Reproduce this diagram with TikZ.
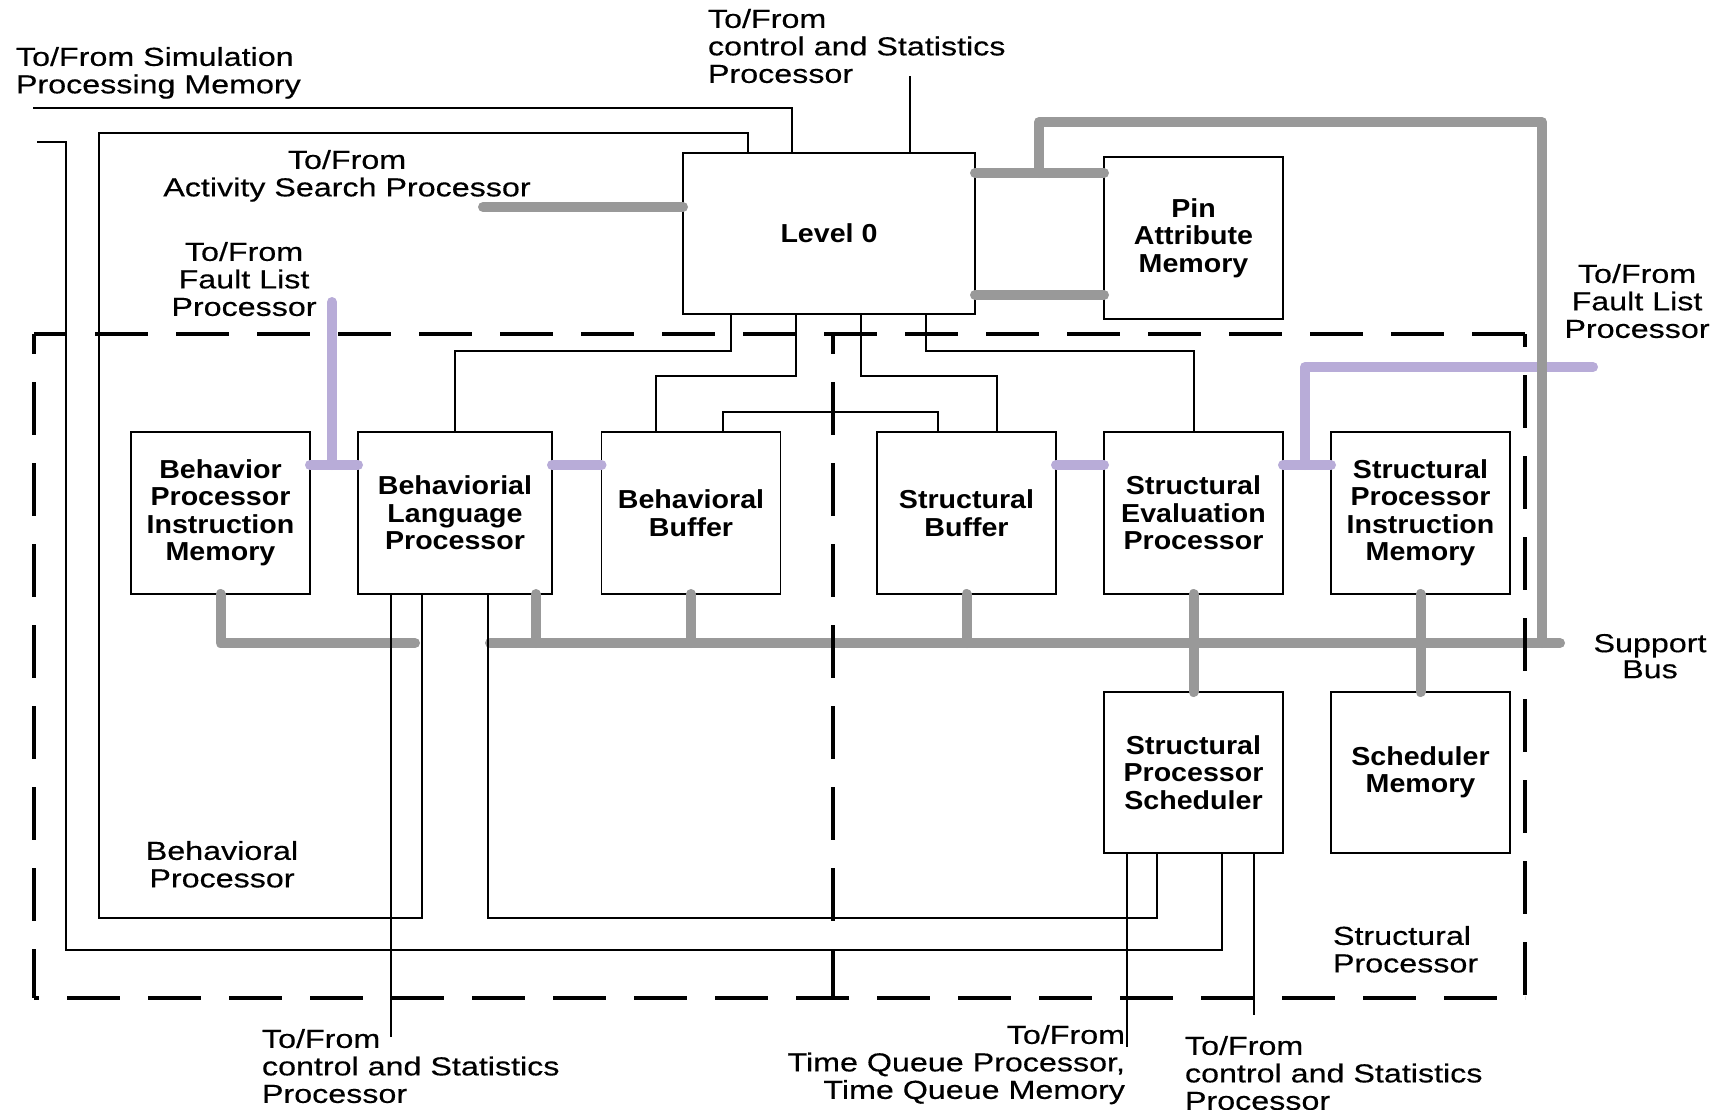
\documentclass[tikz,border=0pt]{standalone}
\usepackage{fontspec}
\newfontfamily\lblfont[FakeStretch=1.24,FakeBold=0.4]{Liberation Sans}
\newfontfamily\boxfont[FakeStretch=1.1]{Liberation Sans}
\definecolor{busgray}{RGB}{153,153,153}
\definecolor{faultpurple}{RGB}{184,172,216}
\begin{document}
\begin{tikzpicture}[x=1pt,y=-1pt,
  unit/.style={draw=black, line width=1.3pt, fill=white, inner sep=0pt, outer sep=0pt,
    minimum width=179pt, minimum height=162pt, align=center,
    font=\boxfont\bfseries\fontsize{26}{27.5}\selectfont},
  lbl/.style={inner sep=0pt, outer sep=0pt, font=\lblfont\fontsize{26}{27.5}\selectfont},
  wire/.style={line width=2pt},
  bus/.style={line width=10pt, draw=busgray, line cap=round, line join=round},
  fault/.style={line width=10pt, draw=faultpurple, line cap=round, line join=round},
  region/.style={line width=3.3pt, dash pattern=on 53pt off 28pt}
]
\useasboundingbox (0,0) rectangle (1724,1109);

% ---------- functional units ----------
\node[unit, minimum width=292pt, minimum height=161pt] (lvl0) at (829,233.5) {Level 0};
\node[unit] (pin)  at (1193.5,238) {Pin\\Attribute\\Memory};
\node[unit] (bpim) at (220.5,513) {Behavior\\Processor\\Instruction\\Memory};
\node[unit, minimum width=194pt] (blp) at (455,513) {Behaviorial\\Language\\Processor};
\node[unit] (bbuf) at (691,513) {Behavioral\\Buffer};
\node[unit] (sbuf) at (966.5,513) {Structural\\Buffer};
\node[unit] (sep)  at (1193.5,513) {Structural\\Evaluation\\Processor};
\node[unit] (spim) at (1420.5,513) {Structural\\Processor\\Instruction\\Memory};
\node[unit, minimum height=161pt] (sps)  at (1193.5,772.5) {Structural\\Processor\\Scheduler};
\node[unit, minimum height=161pt] (smem) at (1420.5,772.5) {Scheduler\\Memory};

% ---------- fault list links ----------
\coordinate (flL) at (332,302);
\coordinate (flRk) at (1305,367);
\coordinate (flR) at (1593,367);
\coordinate (f1) at ([yshift=48pt]bpim.east);
\coordinate (f2) at ([yshift=48pt]blp.west);
\coordinate (f3) at ([yshift=48pt]blp.east);
\coordinate (f4) at ([yshift=48pt]bbuf.west);
\coordinate (f5) at ([yshift=48pt]sbuf.east);
\coordinate (f6) at ([yshift=48pt]sep.west);
\coordinate (f7) at ([yshift=48pt]sep.east);
\coordinate (f8) at ([yshift=48pt]spim.west);
\draw[fault] (flL) -- (flL |- f1);
\draw[fault] (f1) -- (f2);
\draw[fault] (f3) -- (f4);
\draw[fault] (f5) -- (f6);
\draw[fault] (f7) -- (f8);
\draw[fault] (flRk |- f7) -- (flRk) -- (flR);

% ---------- support bus and memory buses ----------
\coordinate (act) at (483,207);
\coordinate (busL) at (415,643);
\coordinate (busS) at (490,643);
\coordinate (busE) at (1560,643);
\coordinate (loopA) at (1039,122);
\coordinate (loopB) at (1542,122);
\coordinate (pa1) at ([yshift=-20pt]lvl0.north east);
\coordinate (pa2) at ([yshift=19pt]lvl0.south east);
\draw[bus] (act) -- (act -| lvl0.west);
\draw[bus] (pa1) -- (pa1 -| pin.west);
\draw[bus] (pa2) -- (pa2 -| pin.west);
\draw[bus] (pa1 -| loopA) -- (loopA) -- (loopB) -- (loopB |- busE);
\draw[bus] (bpim.south) |- (busL);
\draw[bus] (busS) -- (busE);
\draw[bus] ([xshift=81pt]blp.south) -- ([xshift=81pt]blp.south |- busE);
\draw[bus] (bbuf.south) -- (bbuf.south |- busE);
\draw[bus] (sbuf.south) -- (sbuf.south |- busE);
\draw[bus] (sep.south) -- (sps.north);
\draw[bus] (spim.south) -- (smem.north);

% ---------- control wires ----------
\coordinate (spm1) at (33,108);
\coordinate (spm2) at (99,133);
\coordinate (spm2b) at (99,918);
\coordinate (spm3) at (37,142);
\coordinate (spm3b) at (66,950);
\coordinate (cs1) at (910,76);
\draw[wire] (spm1) -| ([xshift=-37pt]lvl0.north);
\draw[wire] ([xshift=-81pt]lvl0.north) |- (spm2) -- (spm2b) -| ([xshift=-33pt]blp.south);
\draw[wire] (spm3) -| (spm3b) -| ([xshift=28.5pt]sps.south);
\draw[wire] (cs1) -- (cs1 |- lvl0.north);
\draw[wire] ([xshift=-98pt]lvl0.south) -- ++(0,37) -| (blp.north);
\draw[wire] ([xshift=-33pt]lvl0.south) -- ++(0,62) -| ([xshift=-35pt]bbuf.north);
\draw[wire] ([xshift=32pt]lvl0.south) -- ++(0,62) -| ([xshift=30.5pt]sbuf.north);
\draw[wire] ([xshift=97pt]lvl0.south) -- ++(0,37) -| (sep.north);
\draw[wire] ([xshift=32pt]bbuf.north) -- ++(0,-20) -| ([xshift=-28.5pt]sbuf.north);
\draw[wire] ([xshift=-64pt]blp.south) -- ++(0,443);
\draw[wire] ([xshift=33pt]blp.south) -- ++(0,324) -| ([xshift=-36.5pt]sps.south);
\draw[wire] ([xshift=-66.5pt]sps.south) -- ++(0,194);
\draw[wire] ([xshift=60.5pt]sps.south) -- ++(0,162);

% ---------- processor regions ----------
\coordinate (dTL) at (34,334);
\coordinate (dTR) at (1525,334);
\coordinate (dBL) at (34,998);
\coordinate (dBR) at (1525,998);
\coordinate (dTM) at (833,334);
\coordinate (dBM) at (833,998);
\draw[region, dash phase=20pt] (dTL) -- (dTR);
\draw[region, dash phase=48pt] (dBL) -- (dBR);
\draw[region, dash phase=33pt] (dTL) -- (dBL);
\draw[region, dash phase=33pt] (dTM) -- (dBM);
\draw[region, dash phase=40pt] (dTR) -- (dBR);

% ---------- labels ----------
\node[lbl, anchor=north west, align=left] (tsim) at (16,47) {To/From Simulation\\Processing Memory};
\node[lbl, anchor=north west, align=left] (tcs1) at (708,9) {To/From\\control and Statistics\\Processor};
\node[lbl, anchor=north, align=center] (tasp) at (347,150) {To/From\\Activity Search Processor};
\node[lbl, anchor=north, align=center] (tfl1) at (244,242) {To/From\\Fault List\\Processor};
\node[lbl, anchor=north, align=center] (tfl2) at (1637,264) {To/From\\Fault List\\Processor};
\node[lbl, anchor=north, align=center, font=\lblfont\fontsize{26}{26}\selectfont] (tsb) at (1650,634) {Support\\Bus};
\node[lbl, anchor=north, align=center] (tbp) at (222,841) {Behavioral\\Processor};
\node[lbl, anchor=north west, align=left] (tsp) at (1333,926) {Structural\\Processor};
\node[lbl, anchor=north west, align=left] (tcs2) at (262,1029) {To/From\\control and Statistics\\Processor};
\node[lbl, anchor=north east, align=right] (ttq) at (1125,1025) {To/From\\Time Queue Processor,\\Time Queue Memory};
\node[lbl, anchor=north west, align=left] (tcs3) at (1185,1036) {To/From\\control and Statistics\\Processor};
\end{tikzpicture}
\end{document}
